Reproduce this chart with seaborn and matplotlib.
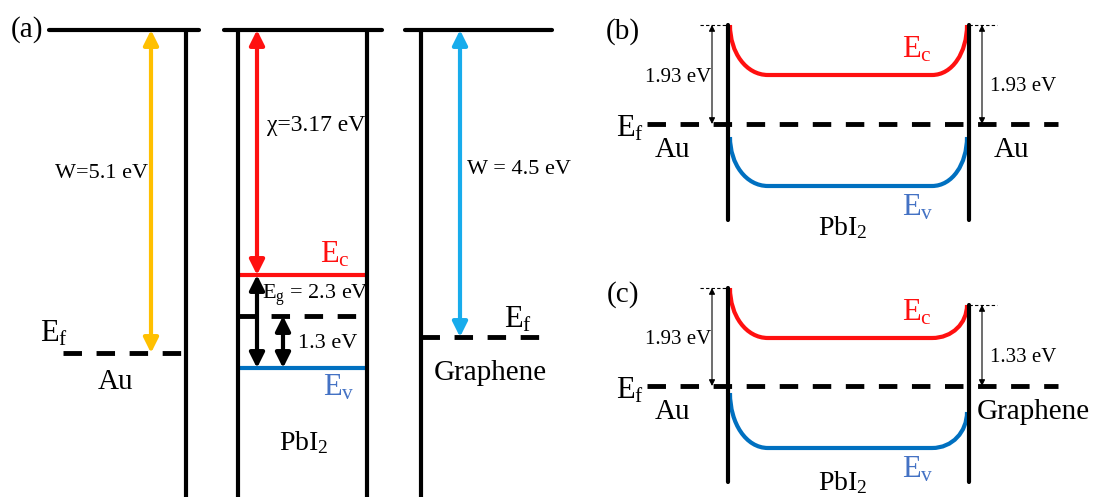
import pandas as pd
import seaborn as sns
import matplotlib.pyplot as plt
from matplotlib.path import Path
from matplotlib.patches import PathPatch

sns.set_style("white")
plt.rcParams['font.family'] = ['Liberation Serif', 'DejaVu Serif']
plt.rcParams['mathtext.fontset'] = 'stix'

# diagram units: x to the right, y = depth below vacuum level
vacuum = 30
floor = 497

# (a) flat bands before contact
vac_start = [49, 224, 405]
vac_end = [199, 382, 552]
walls_a = [186, 238, 367, 421]
au_ef = 353
gr_ef = 337
pbi_ec = 275
pbi_ev = 368
pbi_ef = 316
au_w_x = 151
chi_x = 257
mid_x = 283
gr_w_x = 460

# (b) Au/PbI2/Au and (c) Au/PbI2/Graphene after contact
band_left = 728
band_right = 969
flat_start = 768
flat_end = 932
b_top, b_bottom, b_ef = 25, 220, 124
b_ec_edge, b_ec_flat = [25, 25], 75
b_ev_edge, b_ev_flat = [137, 137], 186
c_top, c_bottom, c_ef = 288, 482, 386
c_ec_edge, c_ec_flat = [288, 305], 338
c_ev_edge, c_ev_flat = [393, 412], 448
barrier_b = ['1.93 eV', '1.93 eV']
barrier_c = ['1.93 eV', '1.33 eV']

RED = '#FF1010'
BLUE = '#0070C0'
YELLOW = '#FFC000'
SKY = '#18ACEC'
LBLUE = '#4472C4'
DASH = (0, (3.8, 3.0))

fig = plt.figure(figsize=(10.96, 4.97), dpi=100)
ax = fig.add_axes([0, 0, 1, 1])


def arrow(x, y0, y1, color, lw=3.0, ms=22):
    ax.annotate('', xy=(x, y1), xytext=(x, y0),
                arrowprops=dict(arrowstyle='<|-|>', color=color, lw=lw,
                                mutation_scale=ms, shrinkA=0, shrinkB=0))


def band(edge, flat, color):
    k = 0.55
    dl = flat_start - band_left
    dr = band_right - flat_end
    verts = [(band_left + 2, edge[0]),
             (band_left + 2, edge[0] + k * (flat - edge[0])), (flat_start - k * dl, flat), (flat_start, flat),
             (flat_end, flat),
             (flat_end + k * dr, flat), (band_right - 2, edge[1] + k * (flat - edge[1])), (band_right - 2, edge[1])]
    codes = [Path.MOVETO, Path.CURVE4, Path.CURVE4, Path.CURVE4, Path.LINETO,
             Path.CURVE4, Path.CURVE4, Path.CURVE4]
    ax.add_patch(PathPatch(Path(verts, codes), fill=False, ec=color, lw=3.0))


def txt(x, y, s, size=20, color='black', ha='center'):
    ax.text(x, y, s, fontsize=size, color=color, ha=ha, va='center')


# ---------- (a) ----------
levels = pd.DataFrame({
    'x': [walls_a[1], walls_a[2], walls_a[1], walls_a[2]],
    'y': [pbi_ec, pbi_ec, pbi_ev, pbi_ev],
    'band': ['Ec', 'Ec', 'Ev', 'Ev'],
})
sns.lineplot(data=levels, x='x', y='y', hue='band', palette={'Ec': RED, 'Ev': BLUE},
             lw=3, legend=False, ax=ax, estimator=None, sort=False)

for x0, x1 in zip(vac_start, vac_end):
    ax.plot([x0, x1], [vacuum, vacuum], color='black', lw=3)
for xw in walls_a:
    ax.plot([xw, xw], [vacuum, floor], color='black', lw=3)

ax.plot([63, 182], [au_ef, au_ef], color='black', lw=3.5, linestyle=DASH)
ax.plot([walls_a[1], 358], [pbi_ef, pbi_ef], color='black', lw=3.5, linestyle=DASH)
ax.plot([walls_a[3], 540], [gr_ef, gr_ef], color='black', lw=3.5, linestyle=DASH)

arrow(au_w_x, vacuum, au_ef, YELLOW)
arrow(chi_x, vacuum, pbi_ec, RED)
arrow(chi_x, pbi_ec, pbi_ev, 'black')
arrow(mid_x, pbi_ef, pbi_ev, 'black')
arrow(gr_w_x, vacuum, gr_ef, SKY)

txt(27, 30, '(a)', 21)
txt(54, 334, r'$\mathregular{E_f}$', 22)
txt(116, 382, 'Au', 21)
txt(102, 173, 'W=5.1 eV', 16)
txt(316, 125, 'χ=3.17 eV', 17)
txt(335, 255, r'$\mathregular{E_c}$', 22, RED)
txt(315, 295, r'$\mathregular{E_g}$ = 2.3 eV', 16)
txt(328, 343, '1.3 eV', 16)
txt(339, 388, r'$\mathregular{E_v}$', 22, LBLUE)
txt(304, 443, r'PbI$_\mathregular{2}$', 20)
txt(519, 170, 'W = 4.5 eV', 16)
txt(518, 320, r'$\mathregular{E_f}$', 22)
txt(490, 373, 'Graphene', 21)

# ---------- (b) and (c) ----------
panels = [
    ('(b)', b_top, b_bottom, b_ef, b_ec_edge, b_ec_flat, b_ev_edge, b_ev_flat, barrier_b, 'Au'),
    ('(c)', c_top, c_bottom, c_ef, c_ec_edge, c_ec_flat, c_ev_edge, c_ev_flat, barrier_c, 'Graphene'),
]
for tag, top, bot, ef, ec_e, ec_f, ev_e, ev_f, barr, right_metal in panels:
    ax.plot([647, 1058], [ef, ef], color='black', lw=3.5, linestyle=DASH)
    ax.plot([band_left, band_left], [ec_e[0], bot], color='black', lw=3)
    ax.plot([band_right, band_right], [ec_e[1], bot], color='black', lw=3)
    band(ec_e, ec_f, RED)
    band(ev_e, ev_f, BLUE)
    ax.plot([700, band_left], [ec_e[0], ec_e[0]], color='black', lw=0.8, linestyle=(0, (3, 2)))
    ax.plot([band_right, 997], [ec_e[1], ec_e[1]], color='black', lw=0.8, linestyle=(0, (3, 2)))
    arrow(712, ec_e[0], ef, 'black', lw=0.8, ms=9)
    arrow(982, ec_e[1], ef, 'black', lw=0.8, ms=9)
    txt(678, (ec_e[0] + ef) / 2 + 3, barr[0], 15)
    txt(1023, (ec_e[1] + ef) / 2 + 12, barr[1], 15)
    txt(623, top + 7, tag, 21)
    txt(630, ef + 5, r'$\mathregular{E_f}$', 22)
    txt(673, ef + 26, 'Au', 21)
    txt(1012 if right_metal == 'Au' else 1033, ef + 26, right_metal, 21)
    txt(917, ec_f - 25, r'$\mathregular{E_c}$', 22, RED)
    txt(918, ev_f + 22, r'$\mathregular{E_v}$', 22, LBLUE)
    txt(843, min(bot + 8, 483), r'PbI$_\mathregular{2}$', 20)

ax.set_xlim(0, 1096)
ax.set_ylim(497, 0)
ax.axis('off')

fig.savefig('out.png', dpi=100)
